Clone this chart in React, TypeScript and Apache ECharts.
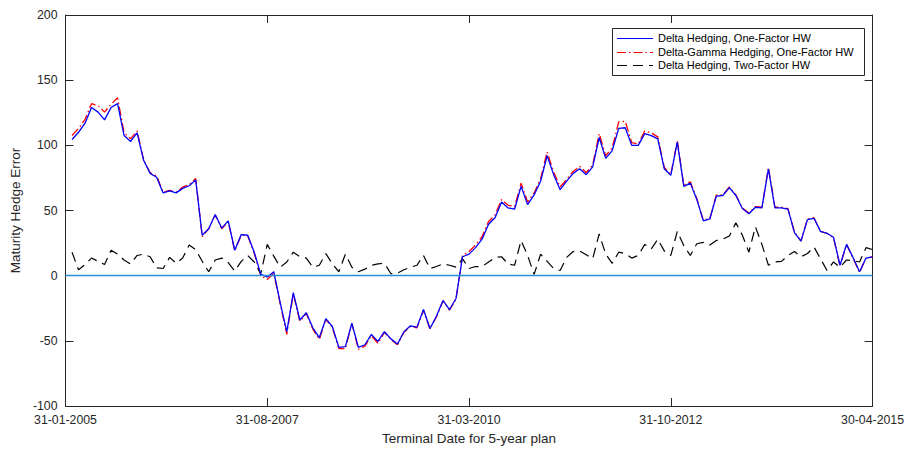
import React, { useEffect, useRef } from "react";
import * as echarts from "echarts";

// Monthly terminal dates, plotted at month offsets 1..124 from 31-01-2005
const tickLabels = ["31-01-2005", "31-08-2007", "31-03-2010", "31-10-2012", "30-04-2015"];

const deltaOneFactor = [
  104.5, 110, 117, 129, 125.5, 119.5, 129, 132, 107.5, 103,
  109.5, 88.5, 78.5, 75.5, 63.5, 65, 63.5, 67, 69, 73.5,
  31, 36, 47, 36.5, 42, 19.5, 31.5, 31, 18, 1,
  -1, 3, -21, -43, -13, -34, -28.5, -40, -47.5, -33,
  -39, -55, -54.5, -36.5, -55, -53, -45, -50.5, -43, -48.5,
  -52.5, -43, -38.5, -39.5, -26, -40.5, -31, -19, -26, -17.5,
  14.5, 16.5, 21.5, 28, 39.5, 44.5, 56.5, 52, 51, 68.5,
  54.5, 62, 72.5, 92, 77.5, 66, 72.5, 78.5, 82, 77.5,
  83.5, 106, 90, 96, 113, 113.5, 100, 100, 109, 107.5,
  105, 82, 77, 102.5, 68.5, 71, 58.5, 42, 43.5, 61,
  61.5, 67.5, 61.5, 51.5, 47.5, 52.5, 52, 82, 52, 52,
  51, 33, 26.5, 43, 44, 34, 32.5, 29.5, 8, 24,
  14, 3, 13.5, 14.5,
];

const deltaGammaOneFactor = [
  107.5, 113, 120, 132, 130.5, 125.5, 131.5, 136.5, 109.5, 105,
  111, 89, 79, 76.5, 64, 65.5, 64, 68, 70, 74.5,
  30, 36, 46.5, 36, 41.5, 19, 31, 30.5, 17, 0,
  -3, 2, -22, -45, -14, -35, -29, -41, -49, -33.5,
  -40, -56, -56, -37, -56.5, -54, -46, -52, -43.5, -49,
  -53, -43.5, -39, -40, -26.5, -41, -31.5, -19.5, -26.5, -18,
  15.5, 18.5, 23.5, 30, 41.5, 46.5, 58.5, 54, 53, 71,
  56.5, 63.5, 74.5, 95, 79.5, 68, 74, 80, 84, 79,
  85, 109, 92, 98, 118, 118.5, 102, 101, 111, 109.5,
  106.5, 83, 77.5, 103.5, 69.5, 72, 59, 42.5, 44, 62,
  62, 68, 62, 52, 48, 53, 52.5, 83, 52.5, 52.5,
  51.5, 33.5, 26.5, 43.5, 44.5, 34, 32.5, 29, 7.5, 24,
  13.5, 2.5, 13.5, 14.5,
];

const deltaTwoFactor = [
  18, 4.5, 8.5, 13.5, 11, 8.5, 19.5, 16.5, 12, 9,
  15.5, 16.5, 14.5, 6, 5.5, 14, 9.5, 13.5, 23.5, 20,
  11, 3, 12, 13.5, 10, 3.5, 11, 15.5, 10.5, 1.5,
  24, 15, 6.5, 10.5, 18, 14.5, 13.5, 6.5, 8, 17,
  9, 3, 16.5, 6.5, 3, 5, 8, 9, 9.5, 1.5,
  2, 4.5, 6.5, 8, 15.5, 5.5, 7, 9, 8, 6.5,
  13, 5.5, 7, 7, 10.5, 14, 14.5, 9, 8, 27,
  15.5, 1, 16.5, 11, 5.5, 4, 14, 18.5, 19, 16,
  13, 32, 16.5, 9.5, 18, 17, 13.5, 15.5, 24, 20.5,
  28, 19, 15.5, 34, 23, 15.5, 24.5, 25.5, 23.5, 27,
  28, 30.5, 40.5, 31, 18, 37.5, 24, 8, 10.5, 11,
  15.5, 18.5, 14.5, 17, 22, 13, 4, 10.5, 6.5, 12,
  11.5, 10.5, 21.5, 20,
];

// Reference level drawn across the axes
const zeroLevel = 0;

const seriesNames = [
  "Delta Hedging, One-Factor HW",
  "Delta-Gamma Hedging, One-Factor HW",
  "Delta Hedging, Two-Factor HW",
];

const BLUE = "rgb(0, 0, 255)";
const RED = "rgb(255, 0, 0)";
const BLACK = "rgb(0, 0, 0)";
const ZERO = "#2a8fd8";

const seriesColors = [BLUE, RED, BLACK];
const seriesDashes: (number[] | null)[] = [null, [9, 3, 1.5, 3], [10, 6]];

const toPoints = (vals: number[]) => vals.map((v, i) => [i + 1, v]);

const FONT = "Liberation Sans, Arial, Helvetica, sans-serif";
const INK = "#262626";

// Boxed legend in the upper-right corner of the axes
function legendGraphic() {
  const left = 612;
  const top = 28;
  const rowH = 13.5;
  const children: any[] = [
    {
      type: "rect",
      shape: { x: left + 0.5, y: top + 0.5, width: 252, height: 47 },
      style: { fill: "#ffffff", stroke: INK, lineWidth: 1 },
    },
  ];
  seriesNames.forEach((name, k) => {
    const cy = top + 10 + k * rowH;
    const dash = seriesDashes[k];
    const lineStyle: any = { stroke: seriesColors[k], lineWidth: 1.2 };
    if (dash) lineStyle.lineDash = dash;
    children.push({
      type: "line",
      shape: { x1: left + 5, y1: Math.round(cy) + 0.5, x2: left + 41, y2: Math.round(cy) + 0.5 },
      style: lineStyle,
    });
    children.push({
      type: "text",
      x: left + 46,
      y: cy,
      style: {
        text: name,
        fontFamily: FONT,
        fontSize: 11,
        fill: "#000000",
        verticalAlign: "middle",
        align: "left",
      },
    });
  });
  return [{ type: "group", z: 100, children }];
}

export default function App() {
  const ref = useRef<HTMLDivElement>(null);

  useEffect(() => {
    if (!ref.current) return;
    const chart = echarts.init(ref.current, undefined, { renderer: "svg" });

    const tickStyle = { show: true, inside: true, length: 8, lineStyle: { color: INK, width: 1 } };
    const axisLine = { show: true, onZero: false, lineStyle: { color: INK, width: 1 } };

    chart.setOption({
      animation: false,
      backgroundColor: "#ffffff",
      grid: { left: 59, right: 31, top: 15, bottom: 40, containLabel: false },
      legend: { show: false },
      graphic: legendGraphic(),
      xAxis: [
        {
          type: "value",
          min: 0,
          max: 124,
          interval: 31,
          position: "bottom",
          axisLine,
          axisTick: tickStyle,
          splitLine: { show: false },
          axisLabel: {
            show: true,
            margin: 8,
            fontFamily: FONT,
            fontSize: 12.3,
            color: INK,
            showMinLabel: true,
            showMaxLabel: true,
            formatter: (v: number) => tickLabels[Math.round(v / 31)] ?? "",
          },
          name: "Terminal Date for 5-year plan",
          nameLocation: "middle",
          nameGap: 25,
          nameTextStyle: { fontFamily: FONT, fontSize: 13.5, color: INK },
        },
        {
          type: "value",
          min: 0,
          max: 124,
          interval: 31,
          position: "top",
          axisLine,
          axisTick: tickStyle,
          axisLabel: { show: false },
          splitLine: { show: false },
        },
      ],
      yAxis: [
        {
          type: "value",
          min: -100,
          max: 200,
          interval: 50,
          position: "left",
          axisLine,
          axisTick: tickStyle,
          splitLine: { show: false },
          axisLabel: { show: true, margin: 8, fontFamily: FONT, fontSize: 12.3, color: INK },
          name: "Maturity Hedge Error",
          nameLocation: "middle",
          nameGap: 25,
          nameTextStyle: { fontFamily: FONT, fontSize: 13.5, color: INK },
        },
        {
          type: "value",
          min: -100,
          max: 200,
          interval: 50,
          position: "right",
          axisLine,
          axisTick: tickStyle,
          axisLabel: { show: false },
          splitLine: { show: false },
        },
      ],
      series: [
        {
          name: seriesNames[1],
          type: "line",
          data: toPoints(deltaGammaOneFactor),
          symbol: "none",
          color: RED,
          lineStyle: { color: RED, width: 1.3, type: seriesDashes[1] },
          z: 2,
        },
        {
          name: seriesNames[0],
          type: "line",
          data: toPoints(deltaOneFactor),
          symbol: "none",
          color: BLUE,
          lineStyle: { color: BLUE, width: 1.3, type: "solid" },
          z: 3,
          markLine: {
            silent: true,
            symbol: "none",
            animation: false,
            label: { show: false },
            lineStyle: { color: ZERO, width: 1.3, type: "solid", opacity: 1 },
            emphasis: { disabled: true },
            data: [{ yAxis: zeroLevel }],
          },
        },
        {
          name: seriesNames[2],
          type: "line",
          data: toPoints(deltaTwoFactor),
          symbol: "none",
          color: BLACK,
          lineStyle: { color: BLACK, width: 1.2, type: seriesDashes[2] },
          z: 2,
        },
      ],
    });

    return () => chart.dispose();
  }, []);

  return (
    <div
      ref={ref}
      style={{ position: "fixed", left: 0, top: 0, width: 907, height: 450, background: "#ffffff" }}
    />
  );
}
